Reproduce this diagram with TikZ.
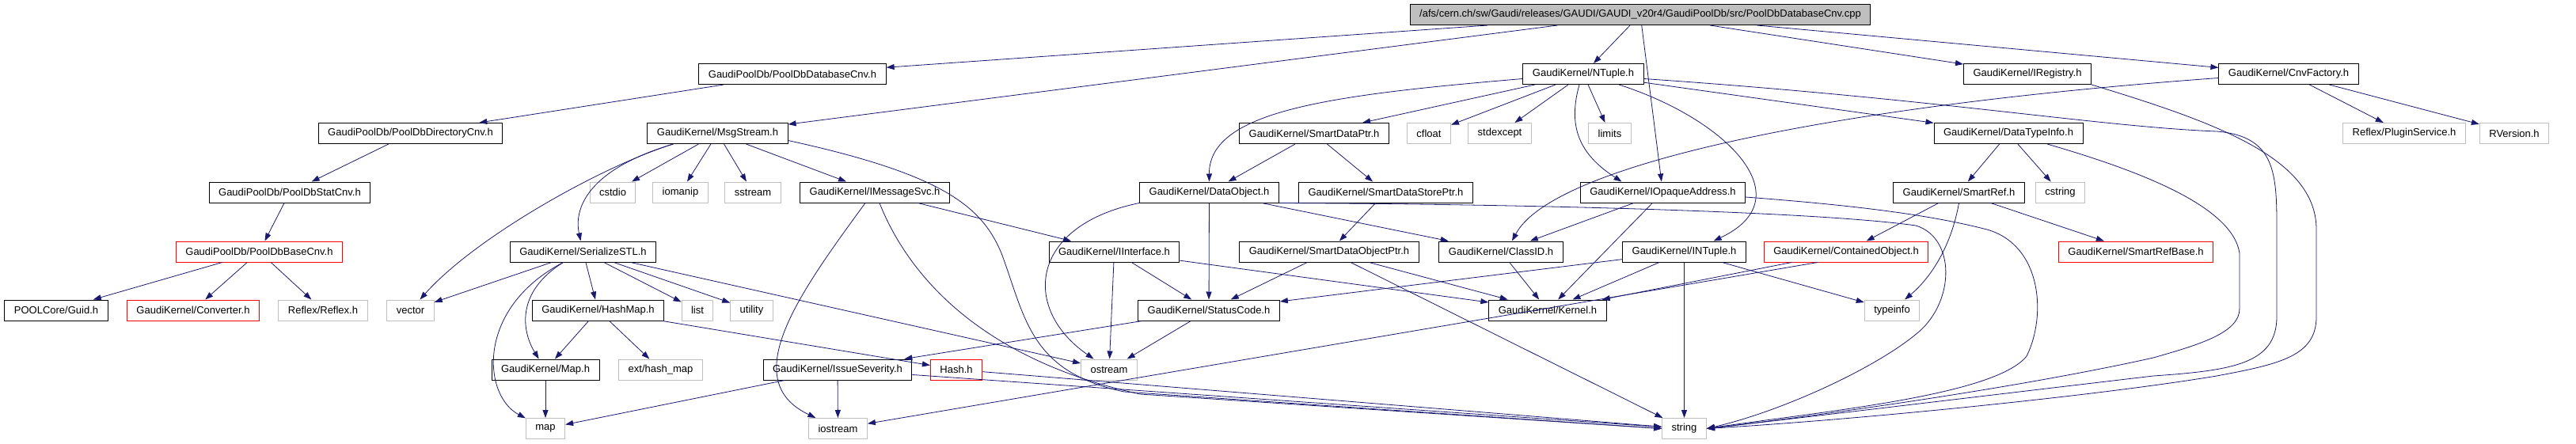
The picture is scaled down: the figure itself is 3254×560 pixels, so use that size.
\documentclass[tikz,border=0pt]{standalone}
\usepackage{fontspec}
\setmainfont{Liberation Sans}
\usetikzlibrary{arrows.meta}
\definecolor{edgeblue}{RGB}{25,25,112}
\definecolor{sysgray}{RGB}{191,191,191}
\begin{document}
\begin{tikzpicture}[x=1pt, y=-1pt,
    every node/.style={font=\fontsize{13}{15}\selectfont, inner xsep=12pt, inner ysep=0pt, minimum height=26pt, line width=1pt},
    hdr/.style={draw=black},
    trunc/.style={draw=red},
    sys/.style={draw=sysgray},
    dep/.style={draw=edgeblue, line width=0.8pt, -{Triangle[length=10pt,width=7pt]}}]
    \useasboundingbox (0,0) rectangle (3254,560);
    \node[hdr, fill=sysgray] (root) at (2072,18.5) {/afs/cern.ch/sw/Gaudi/releases/GAUDI/GAUDI\_v20r4/GaudiPoolDb/src/PoolDbDatabaseCnv.cpp};
    \node[hdr] (pdbdb) at (1001,93.5) {GaudiPoolDb/PoolDbDatabaseCnv.h};
    \node[hdr] (gknt) at (2000,93.5) {GaudiKernel/NTuple.h};
    \node[hdr] (gkreg) at (2561,93.5) {GaudiKernel/IRegistry.h};
    \node[hdr] (gkcnv) at (2891,93.5) {GaudiKernel/CnvFactory.h};
    \node[hdr] (pdbdir) at (518.5,168.5) {GaudiPoolDb/PoolDbDirectoryCnv.h};
    \node[hdr] (gkmsg) at (906.5,168.5) {GaudiKernel/MsgStream.h};
    \node[hdr] (gksdp) at (1660,168.5) {GaudiKernel/SmartDataPtr.h};
    \node[sys] (stdcfloat) at (1805,168.5) {cfloat};
    \node[sys] (stdexcept) at (1894.5,168.5) {stdexcept};
    \node[sys] (stdlimits) at (2033.5,168.5) {limits};
    \node[hdr] (gkdti) at (2537,168.5) {GaudiKernel/DataTypeInfo.h};
    \node[sys] (plugin) at (3037,168.5) {Reflex/PluginService.h};
    \node[sys] (rversion) at (3176,168.5) {RVersion.h};
    \node[hdr] (pdbstat) at (366,243) {GaudiPoolDb/PoolDbStatCnv.h};
    \node[sys] (stdcstdio) at (774,243) {cstdio};
    \node[sys] (stdiomanip) at (859.5,243) {iomanip};
    \node[sys] (stdsstream) at (951,243) {sstream};
    \node[hdr] (gkims) at (1105,243) {GaudiKernel/IMessageSvc.h};
    \node[hdr] (gkdobj) at (1527.5,243) {GaudiKernel/DataObject.h};
    \node[hdr] (gksdsp) at (1750.5,243) {GaudiKernel/SmartDataStorePtr.h};
    \node[hdr] (gkopq) at (2100.5,243) {GaudiKernel/IOpaqueAddress.h};
    \node[hdr] (gksref) at (2474.5,243) {GaudiKernel/SmartRef.h};
    \node[sys] (stdcstring) at (2602.5,243) {cstring};
    \node[trunc] (pdbbase) at (327.5,318) {GaudiPoolDb/PoolDbBaseCnv.h};
    \node[hdr] (gkser) at (736.5,318) {GaudiKernel/SerializeSTL.h};
    \node[hdr] (gkiif) at (1407.5,318) {GaudiKernel/IInterface.h};
    \node[hdr] (gksdop) at (1679,318) {GaudiKernel/SmartDataObjectPtr.h};
    \node[hdr] (gkclsid) at (1896,318) {GaudiKernel/ClassID.h};
    \node[hdr] (gkint) at (2127.5,318) {GaudiKernel/INTuple.h};
    \node[trunc] (gkcont) at (2332,318) {GaudiKernel/ContainedObject.h};
    \node[trunc] (gksrb) at (2698,318) {GaudiKernel/SmartRefBase.h};
    \node[hdr] (guid) at (71,392) {POOLCore/Guid.h};
    \node[trunc] (conv) at (244,392) {GaudiKernel/Converter.h};
    \node[sys] (reflex) at (408,392) {Reflex/Reflex.h};
    \node[sys] (stdvector) at (518.5,392) {vector};
    \node[hdr] (gkhmap) at (755.5,392) {GaudiKernel/HashMap.h};
    \node[sys] (stdlist) at (881,392) {list};
    \node[sys] (stdutility) at (949.5,392) {utility};
    \node[hdr] (gksc) at (1527,392) {GaudiKernel/StatusCode.h};
    \node[hdr] (gkkernel) at (1955,392) {GaudiKernel/Kernel.h};
    \node[sys] (stdtypeinfo) at (2390,392) {typeinfo};
    \node[hdr] (gkmap) at (689,467) {GaudiKernel/Map.h};
    \node[sys] (stdhmap) at (834.5,467) {ext/hash\_map};
    \node[hdr] (gkissue) at (1058,467) {GaudiKernel/IssueSeverity.h};
    \node[trunc] (hash) at (1208,467) {Hash.h};
    \node[sys] (stdostream) at (1401,467) {ostream};
    \node[sys] (stdmap) at (689,541.5) {map};
    \node[sys] (stdiostream) at (1058.5,541.5) {iostream};
    \node[sys] (stdstring) at (2127.5,541.5) {string};

    \draw[dep] (root) -- (pdbdb);
    \draw[dep] (root) -- (gkmsg);
    \draw[dep] (root) -- (gknt);
    \draw[dep] (root) -- (gkopq);
    \draw[dep] (root) -- (gkreg);
    \draw[dep] (root) -- (gkcnv);
    \draw[dep] (pdbdb) -- (pdbdir);
    \draw[dep] (pdbdir) -- (pdbstat);
    \draw[dep] (pdbstat) -- (pdbbase);
    \draw[dep] (pdbbase) -- (guid);
    \draw[dep] (pdbbase) -- (conv);
    \draw[dep] (pdbbase) -- (reflex);
    \draw[dep] ([xshift=33pt]gkmsg.south west) .. controls (760,210) and (600,300) .. (stdvector);
    \draw[dep] ([xshift=33pt]gkmsg.south west) .. controls (740,215) and (725,265) .. (gkser);
    \draw[dep] (gkmsg) -- (stdcstdio);
    \draw[dep] (gkmsg) -- (stdiomanip);
    \draw[dep] (gkmsg) -- (stdsstream);
    \draw[dep] (gkmsg) -- (gkims);
    \draw[dep] ([yshift=-9pt]gkmsg.east) .. controls (1190,220) and (1240,260) .. (1265,320) .. controls (1295,400) and (1300,470) .. (1420,495) -- (stdstring.west);
    \draw[dep] (gkims) -- (gkiif);
    \draw[dep] ([xshift=-12pt]gkims.south) .. controls (1010,370) and (930,480) .. (stdiostream);
    \draw[dep] ([xshift=6pt]gkims.south) .. controls (1140,330) and (1220,450) .. (1440,498) -- (stdstring.west);
    \draw[dep] (gkser) -- (stdvector);
    \draw[dep] (gkser) -- (gkhmap);
    \draw[dep] ([xshift=-25pt]gkser.south) .. controls (650,370) and (660,420) .. (gkmap);
    \draw[dep] ([xshift=-25pt]gkser.south) .. controls (600,390) and (610,500) .. (stdmap);
    \draw[dep] (gkser) -- (stdlist);
    \draw[dep] (gkser) -- (stdutility);
    \draw[dep] (gkser) -- (stdostream);
    \draw[dep] (gkhmap) -- (gkmap);
    \draw[dep] (gkhmap) -- (stdhmap);
    \draw[dep] (gkhmap) -- (hash);
    \draw[dep] (gkmap) -- (stdmap);
    \draw[dep] (gkissue) -- (stdmap);
    \draw[dep] (gkissue) -- (stdiostream);
    \draw[dep] (gkissue) -- (stdstring);
    \draw[dep] (hash) -- (stdstring);
    \draw[dep] (gksc) -- (gkissue);
    \draw[dep] (gksc) -- (stdostream);
    \draw[dep] (gkiif) -- (gksc);
    \draw[dep] (gkiif) -- (stdostream);
    \draw[dep] (gkiif) -- (gkkernel);
    \draw[dep] (gkdobj) -- (gksc);
    \draw[dep] (gkdobj.south west) .. controls (1300,285) and (1290,390) .. (stdostream);
    \draw[dep] (gkdobj) -- (gkclsid);
    \draw[dep] (gkdobj.south east) .. controls (1950,258) and (2300,268) .. (2420,285) .. controls (2470,300) and (2470,380) .. (2423,420) .. controls (2370,465) and (2250,520) .. (stdstring.east);
    \draw[dep] (gksdp) -- (gkdobj);
    \draw[dep] (gksdp) -- (gksdsp);
    \draw[dep] (gksdsp) -- (gksdop);
    \draw[dep] (gksdop) -- (gksc);
    \draw[dep] (gksdop) -- (gkkernel);
    \draw[dep] (gksdop) -- (stdstring);
    \draw[dep] (gknt) -- (gksdp);
    \draw[dep] (gknt) -- (stdcfloat);
    \draw[dep] (gknt) -- (stdexcept);
    \draw[dep] (gknt) -- (stdlimits);
    \draw[dep] (gknt) -- (gkdti);
    \draw[dep] ([yshift=-6pt]gknt.west) .. controls (1680,120) and (1527,140) .. (gkdobj.north);
    \draw[dep] ([xshift=-5pt]gknt.south) .. controls (1980,160) and (1995,195) .. ([xshift=-52pt]gkopq.north);
    \draw[dep] ([xshift=45pt]gknt.south) .. controls (2180,150) and (2280,250) .. ([xshift=37pt]gkint.north);
    \draw[dep] ([yshift=-6pt]gknt.east) .. controls (2450,125) and (2650,160) .. (2800,166) .. controls (2875,172) and (2876,220) .. (2876,290) -- (2876,400) .. controls (2876,460) and (2820,468) .. (2720,475) .. controls (2550,495) and (2300,525) .. (stdstring.east);
    \draw[dep] (gkreg.south east) .. controls (2800,155) and (2926,200) .. (2926,290) -- (2926,400) .. controls (2926,450) and (2880,460) .. (2800,475) .. controls (2650,500) and (2350,530) .. (stdstring.east);
    \draw[dep] ([xshift=49pt]gkdti.south) .. controls (2700,215) and (2820,260) .. (2829,320) -- (2829,390) .. controls (2829,420) and (2780,435) .. (2720,452) .. controls (2550,490) and (2300,525) .. (stdstring.east);
    \draw[dep] ([yshift=-6pt]gkopq.east) .. controls (2350,260) and (2440,272) .. (2510,290) .. controls (2580,310) and (2585,400) .. (2560,450) .. controls (2520,500) and (2300,520) .. (stdstring.east);
    \draw[dep] (gkopq) -- (gkclsid);
    \draw[dep] (gkopq) -- (gkkernel);
    \draw[dep] (gkcnv) -- (plugin);
    \draw[dep] (gkcnv) -- (rversion);
    \draw[dep] ([yshift=-5pt]gkcnv.west) .. controls (2300,135) and (1960,210) .. ([xshift=14pt]gkclsid.north);
    \draw[dep] (gkint) -- (gksc);
    \draw[dep] (gkint) -- (gkkernel);
    \draw[dep] (gkint) -- (stdstring);
    \draw[dep] (gkint) -- (stdtypeinfo);
    \draw[dep] (gkclsid) -- (gkkernel);
    \draw[dep] (gkcont) -- (gkkernel);
    \draw[dep] ([xshift=-36pt]gkcont.south) -- (stdiostream);
    \draw[dep] (gksref) -- (gkcont);
    \draw[dep] (gksref.south) .. controls (2465,310) and (2440,350) .. (stdtypeinfo);
    \draw[dep] (gksref) -- (gksrb);
    \draw[dep] (gkdti) -- (gksref);
    \draw[dep] (gkdti) -- (stdcstring);
\end{tikzpicture}
\end{document}
